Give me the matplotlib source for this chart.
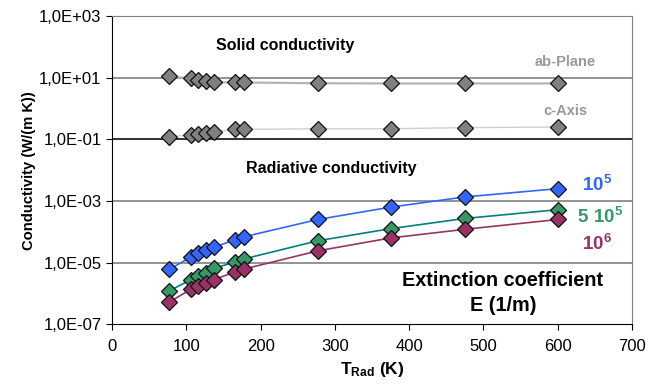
"""Solid and radiative conductivity vs. radiation temperature."""
import matplotlib
matplotlib.use("Agg")
import matplotlib.pyplot as plt
from matplotlib.ticker import FixedLocator, FixedFormatter, NullLocator

plt.rcParams["font.family"] = ["Liberation Sans", "DejaVu Sans"]
plt.rcParams["mathtext.fontset"] = "custom"
plt.rcParams["mathtext.rm"] = "Liberation Sans"
plt.rcParams["mathtext.bf"] = "Liberation Sans:bold"

T_RAD = [77, 106, 116, 126, 137, 166, 177, 277, 375, 475, 600]

AB_PLANE = [11.0, 9.5, 8.6, 8.0, 7.2, 7.0, 7.0, 6.6, 6.5, 6.5, 6.5]
C_AXIS = [0.12, 0.14, 0.15, 0.16, 0.175, 0.21, 0.21, 0.22, 0.22, 0.24, 0.25]

E_1E5 = [6.0e-6, 1.5e-5, 2.0e-5, 2.5e-5, 3.1e-5, 5.6e-5, 6.8e-5, 2.5e-4, 6.3e-4, 1.35e-3, 2.5e-3]
E_5E5 = [1.2e-6, 2.8e-6, 3.6e-6, 4.7e-6, 6.5e-6, 1.05e-5, 1.3e-5, 5.1e-5, 1.26e-4, 2.7e-4, 5.2e-4]
E_1E6 = [5.2e-7, 1.35e-6, 1.7e-6, 2.2e-6, 2.8e-6, 5.0e-6, 6.1e-6, 2.4e-5, 6.3e-5, 1.2e-4, 2.5e-4]

Y_TICKS = [1e-7, 1e-5, 1e-3, 1e-1, 1e1, 1e3]
Y_LABELS = ["1,0E-07", "1,0E-05", "1,0E-03", "1,0E-01", "1,0E+01", "1,0E+03"]

fig = plt.figure(figsize=(6.55, 3.92), dpi=100)
ax = fig.add_axes([0.171, 0.173, 0.794, 0.786])

series = [
    (AB_PLANE, "#b4b4b4", "#808080", 1.6),
    (C_AXIS, "#cfcfcf", "#808080", 1.0),
    (E_1E5, "#3366ff", "#3366ff", 1.2),
    (E_5E5, "#008080", "#339966", 1.2),
    (E_1E6, "#993366", "#993366", 1.2),
]
for vals, lc, fc, lw in series:
    ax.plot(T_RAD, vals, color=lc, lw=lw, zorder=3)
    ax.plot(T_RAD, vals, ls="none", marker="D", ms=8.5, mfc=fc,
            mec="#111111", mew=0.9, zorder=4)

ax.set_yscale("log")
ax.set_ylim(1e-7, 1e3)
ax.set_xlim(0, 700)
ax.yaxis.set_major_locator(FixedLocator(Y_TICKS))
ax.yaxis.set_major_formatter(FixedFormatter(Y_LABELS))
ax.yaxis.set_minor_locator(NullLocator())
ax.set_xticks(range(0, 701, 100))

for y in Y_TICKS[1:-1]:
    ax.axhline(y, color="#808080", lw=1.2, zorder=1)
ax.axhline(1e-1, color="#222222", lw=1.2, zorder=1)

for side in ("top", "right"):
    ax.spines[side].set_color("#808080")
for side in ("left", "bottom"):
    ax.spines[side].set_color("black")
ax.tick_params(labelsize=12, direction="out", length=4, color="black")
ax.tick_params(axis="x", pad=7)

ax.set_xlabel(r"$\mathbf{T_{Rad}}$ (K)", fontsize=12.5, fontweight="bold", labelpad=4)
ax.set_ylabel("Conductivity (W/(m K))", fontsize=10.6, fontweight="bold", labelpad=2)

ax.text(233, 10**2.06, "Solid conductivity", ha="center", va="center",
        fontsize=11.5, fontweight="bold")
ax.text(610, 10**1.5, "ab-Plane", ha="center", va="center",
        fontsize=10.5, fontweight="bold", color="#999999")
ax.text(610, 10**-0.08, "c-Axis", ha="center", va="center",
        fontsize=10.5, fontweight="bold", color="#999999")
ax.text(295, 10**-1.94, "Radiative conductivity", ha="center", va="center",
        fontsize=11.5, fontweight="bold")
ax.text(653, 10**-2.49, r"$\mathbf{10^5}$", ha="center", va="center",
        fontsize=13.5, color="#3366ff")
ax.text(657, 10**-3.53, r"$\mathbf{5\ 10^5}$", ha="center", va="center",
        fontsize=13.5, color="#339966")
ax.text(653, 10**-4.4, r"$\mathbf{10^6}$", ha="center", va="center",
        fontsize=13.5, color="#993366")
ax.text(526, 10**-5.57, "Extinction coefficient", ha="center", va="center",
        fontsize=14.3, fontweight="bold")
ax.text(526, 10**-6.38, "E (1/m)", ha="center", va="center",
        fontsize=14.3, fontweight="bold")

fig.savefig("out.png", dpi=100)
